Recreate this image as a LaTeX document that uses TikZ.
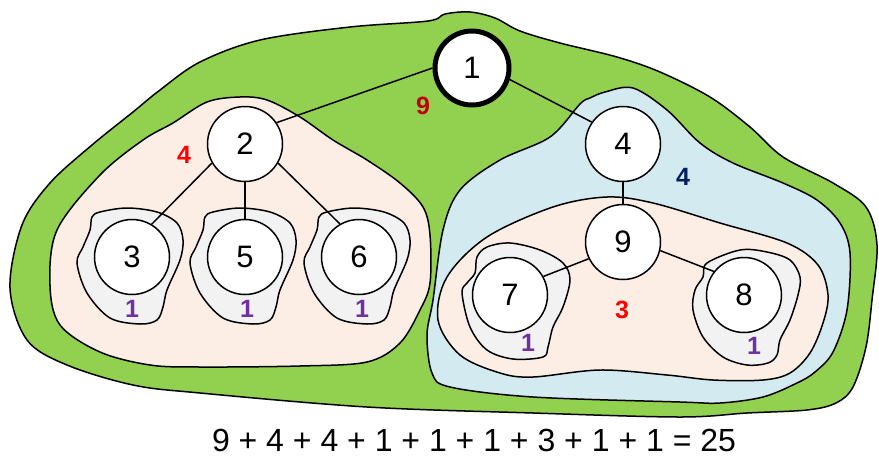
\documentclass[tikz,border=0pt]{standalone}
\usepackage{fontspec}
\setmainfont{Liberation Sans}
\begin{document}
\begin{tikzpicture}[x=0.5pt,y=-0.5pt,
  region/.style={draw=black,line width=0.75pt,smooth cycle,tension=0.55},
  vertex/.style={circle,draw=black,fill=white,line width=0.75pt,minimum size=37.5pt,inner sep=0pt,font=\fontsize{15.5}{18}\selectfont},
  rootvertex/.style={vertex,line width=2.5pt,minimum size=37pt},
  edge/.style={line width=0.75pt},
  cnt/.style={font=\fontsize{12.5}{15}\selectfont\bfseries},
  leafcnt/.style={cnt,text=leafpurple}]
\definecolor{grass}{HTML}{92D050}
\definecolor{peach}{HTML}{FCEEE4}
\definecolor{skyblue}{HTML}{D2EAF0}
\definecolor{leafgray}{HTML}{F2F2F2}
\definecolor{darkred}{HTML}{C00000}
\definecolor{navy}{HTML}{002060}
\definecolor{leafpurple}{HTML}{7030A0}
\useasboundingbox (0,0) rectangle (879,456);

% outer region around the whole tree
\draw[region,fill=grass] plot coordinates {
  (10,288) (22,225) (50,183) (92,145) (133,112) (160,90) (200,62) (260,40)
  (350,27) (428,21) (445,14) (470,12) (495,18) (520,31) (560,43) (617,57)
  (660,72) (710,97) (750,127) (783,157) (833,183) (866,207) (877,245)
  (872,300) (866,347) (853,387) (836,403) (807,410) (747,413) (680,417)
  (533,413) (367,407) (200,393) (133,385) (67,365) (27,340)};

% left subtree region
\draw[region,fill=peach] plot coordinates {
  (50,285) (57,230) (100,175) (143,140) (173,123) (207,102) (240,97)
  (267,100) (300,117) (333,140) (367,160) (400,183) (423,207) (430,235)
  (430,283) (420,310) (400,343) (367,362) (300,366) (200,367) (150,365)
  (100,352) (60,325)};

% right subtree region
\draw[region,fill=skyblue] plot coordinates {
  (580,104) (590,98) (605,92) (633,88) (667,110) (700,143) (733,163)
  (783,183) (817,200) (840,223) (850,253) (847,310) (833,352) (815,372)
  (797,383) (763,397) (720,403) (680,402) (533,397) (450,387) (432,373)
  (427,335) (433,300) (443,230) (460,190) (500,160) (550,137)};

% subtree of node 9
\draw[region,fill=peach] plot coordinates {
  (553,207) (607,197) (653,203) (720,223) (787,243) (818,265) (828,295)
  (823,323) (810,353) (790,373) (763,380) (713,380) (667,375) (600,370)
  (533,377) (500,373) (460,355) (438,320) (447,277) (487,237)};

% leaf regions
\foreach \cx in {132,245,359}{
  \begin{scope}[shift={(\cx,257)}]
    \draw[region,fill=leafgray] plot coordinates {
      (-5,-49) (25,-45) (45,-34) (51,-17) (48,3) (35,33) (31,50) (25,63)
      (8,67) (-22,61) (-45,36) (-55,6) (-49,-10) (-42,-27) (-40,-40) (-32,-45)};
  \end{scope}}
\draw[region,fill=leafgray] plot coordinates {
  (510,243) (540,250) (563,263) (570,280) (563,307) (553,327) (548,347)
  (543,357) (513,359) (487,350) (470,327) (462,293) (467,283) (475,273)
  (477,257) (487,247)};
\draw[region,fill=leafgray] plot coordinates {
  (707,263) (740,250) (767,252) (790,260) (800,277) (798,295) (790,320)
  (780,340) (777,355) (768,363) (747,365) (723,357) (703,337) (693,310)
  (695,290) (703,277)};

% tree nodes
\node[rootvertex] (n1) at (472,68) {1};
\node[vertex] (n2) at (245,144) {2};
\node[vertex] (n3) at (132,257) {3};
\node[vertex] (n5) at (245,257) {5};
\node[vertex] (n6) at (359,257) {6};
\node[vertex] (n4) at (623,144) {4};
\node[vertex] (n9) at (623,242) {9};
\node[vertex] (n7) at (510,295) {7};
\node[vertex] (n8) at (744,295) {8};

% tree edges
\draw[edge] (n1.west) -- (n2.34);
\draw[edge] (n1.-17) -- (n4.145);
\draw[edge] (n2.210) -- (n3.59);
\draw[edge] (n2.south) -- (n5.north);
\draw[edge] (n2.-30) -- (n6.120);
\draw[edge] (n4.south) -- (n9.north);
\draw[edge] (n9.206) -- (n7.29);
\draw[edge] (n9.-13) -- (n8.142);

% subtree sizes
\node[cnt,text=darkred] (s1) at (423,106) {9};
\node[cnt,text=red] (s2) at (184,155) {4};
\node[cnt,text=navy] (s4) at (683,177) {4};
\node[cnt,text=red] (s9) at (622,310) {3};
\node[leafcnt] (s3) at (132,309) {1};
\node[leafcnt] (s5) at (247,309) {1};
\node[leafcnt] (s6) at (362,309) {1};
\node[leafcnt] (s7) at (528,343) {1};
\node[leafcnt] (s8) at (754,346) {1};

% total
\node[inner sep=0pt,font=\fontsize{16}{19}\selectfont] (sum) at (474,440) {9 + 4 + 4 + 1 + 1 + 1 + 3 + 1 + 1 = 25};
\end{tikzpicture}
\end{document}
